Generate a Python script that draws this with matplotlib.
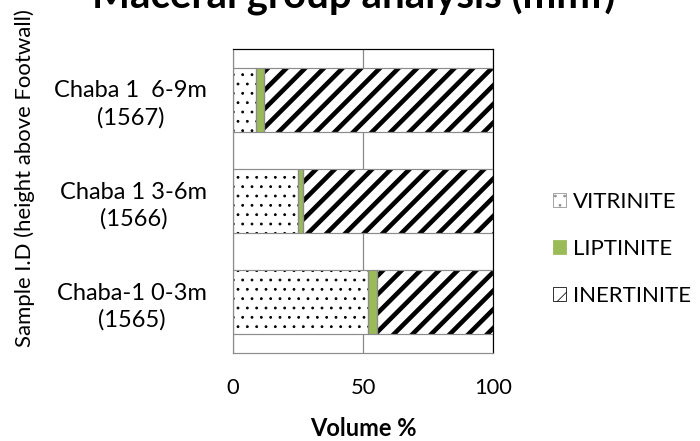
import matplotlib as mpl
import matplotlib.pyplot as plt
from matplotlib.patches import Patch
import numpy as np

plt.rcParams['font.family'] = ['Lato', 'DejaVu Sans']

samples = ['Chaba-1 0-3m\n(1565)', 'Chaba 1 3-6m\n(1566)', 'Chaba 1  6-9m\n(1567)']
vitrinite = [52, 25, 9]
liptinite = [3.5, 2, 3]
inertinite = [44.5, 73, 88]
legend_labels = ['VITRINITE', 'LIPTINITE', 'INERTINITE']
green = '#9bbb59'

W, H = 700, 441
DPI = 56
PT = 72 / DPI  # pixels -> points

fig = plt.figure(figsize=(W / DPI, H / DPI), dpi=DPI)
renderer = fig.canvas.get_renderer()


def fit_size(text, width_px, **kw):
    # font size (pt) that makes `text` about width_px wide
    t = fig.text(0, 0, text, fontsize=20, **kw)
    w = t.get_window_extent(renderer).width
    t.remove()
    return 20 * width_px / w


ax = fig.add_axes([233 / W, 1 - 353 / H, 260 / W, 304 / H])

y = np.arange(len(samples))
h = 0.63
left = np.zeros(len(samples))
series = [
    (vitrinite, 'white', '.', 1.2),
    (liptinite, green, None, 1.0),
    (inertinite, 'white', '/', 4.6 * PT),
]
for vals, fc, hatch, hlw in series:
    with mpl.rc_context({'hatch.linewidth': hlw}):
        bars = ax.barh(y, vals, height=h, left=left, color=fc, hatch=hatch,
                       edgecolor='black', linewidth=0, zorder=2)
    for b in bars:
        if hasattr(b, 'set_hatch_linewidth'):
            b.set_hatch_linewidth(hlw)
    ax.barh(y, vals, height=h, left=left, fill=False,
            edgecolor='#8c8c8c', linewidth=1.2 * PT, zorder=3)
    left = left + np.array(vals)

tick_fs = fit_size('100', 38)
ytick_fs = fit_size('Chaba 1  6-9m', 153)
xlab_fs = fit_size('Volume %', 107, fontweight='bold')
title_fs = fit_size('Maceral group analysis (mmf)', 523, fontweight='bold')
ylab_fs = fit_size('Sample I.D (height above Footwall)', 337)
leg_fs = fit_size('VITRINITE', 103)

ax.set_xlim(0, 100)
ax.set_ylim(-0.5, 2.5)
ax.set_xticks([0, 50, 100])
ax.set_yticks(y)
ax.set_yticklabels(samples, multialignment='center', linespacing=1.3)
ax.tick_params(axis='both', length=0)
ax.tick_params(axis='x', pad=25 * PT, labelsize=tick_fs)
ax.tick_params(axis='y', pad=26 * PT, labelsize=ytick_fs)
ax.xaxis.grid(True, color='#878787', linewidth=1.2 * PT, zorder=0)
ax.set_axisbelow(True)
for s in ['top', 'right']:
    ax.spines[s].set_color('black')
    ax.spines[s].set_linewidth(1.2 * PT)
for s in ['left', 'bottom']:
    ax.spines[s].set_color('#8c8c8c')
    ax.spines[s].set_linewidth(1.2 * PT)

ax.set_xlabel('Volume %', fontsize=xlab_fs, fontweight='bold', va='center')
ax.xaxis.set_label_coords((363.5 - 233) / 260, (353 - 428) / 304)
ax.set_ylabel('Sample I.D (height above Footwall)', fontsize=ylab_fs, va='center')
ax.yaxis.set_label_coords((25 - 233) / 260, (353 - 178.5) / 304)

fig.text(353.5 / W, 1 - 8 / H, 'Maceral group analysis (mmf)',
         fontsize=title_fs, fontweight='bold', ha='center', va='baseline')

em = leg_fs / PT  # font size in px
handles = [
    Patch(facecolor='white', edgecolor='#8c8c8c', hatch='.', label=legend_labels[0]),
    Patch(facecolor=green, edgecolor=green, label=legend_labels[1]),
    Patch(facecolor='white', edgecolor='black', hatch='/', label=legend_labels[2]),
]
fig.legend(handles=handles, loc='center left', bbox_to_anchor=(553 / W, 1 - 249 / H),
           frameon=False, fontsize=leg_fs, handlelength=13 / em, handleheight=13 / em,
           handletextpad=7 / em, labelspacing=(53.5 - 1.2 * em) / em,
           borderpad=0, borderaxespad=0)

fig.savefig('out.png', dpi=DPI)
